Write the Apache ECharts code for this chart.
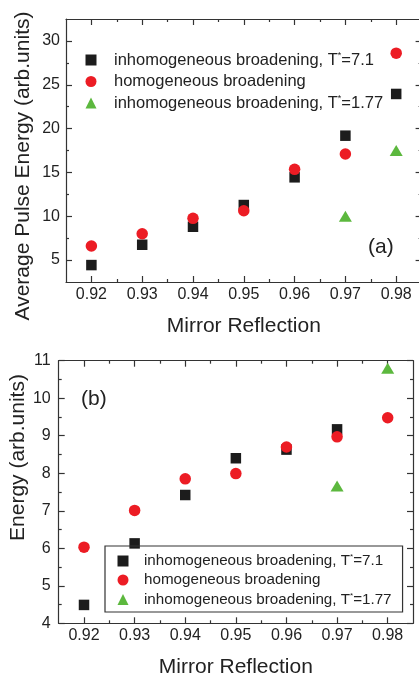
<!DOCTYPE html>
<html>
<head>
<meta charset="utf-8">
<script src="https://cdn.jsdelivr.net/npm/echarts@6/dist/echarts.min.js"></script>
<style>
html, body { margin: 0; padding: 0; background: #fff; }
#chart { width: 419px; height: 675px; }
</style>
</head>
<body>
<div id="chart"></div>
<script>
var chart = echarts.init(document.getElementById('chart'));

// mirror reflection values (x)
var reflection = [0.92, 0.93, 0.94, 0.95, 0.96, 0.97, 0.98];
var xTicks = [0.92, 0.93, 0.94, 0.95, 0.96, 0.97, 0.98];
var xMinorTicks = [0.925, 0.935, 0.945, 0.955, 0.965, 0.975];

// panel (a): average pulse energy
var pulseInhom71 = [4.43, 6.75, 8.8, 11.28, 14.44, 19.19, 23.95];
var pulseHom = [6.6, 8.0, 9.76, 10.63, 15.35, 17.1, 28.6];
var pulseInhom177 = [null, null, null, null, null, 10.0, 17.5];
var yTicksA = [5, 10, 15, 20, 25, 30];
var yMinorTicksA = [7.5, 12.5, 17.5, 22.5, 27.5];

// panel (b): energy
var energyInhom71 = [4.49, 6.13, 7.42, 8.4, 8.63, 9.17, null];
var energyHom = [6.03, 7.01, 7.85, 7.99, 8.7, 8.97, 9.48];
var energyInhom177 = [null, null, null, null, null, 7.66, 10.8];
var yTicksB = [4, 5, 6, 7, 8, 9, 10, 11];
var yMinorTicksB = [4.5, 5.5, 6.5, 7.5, 8.5, 9.5, 10.5];

var names = [
    'inhomogeneous broadening, T*=7.1',
    'homogeneous broadening',
    'inhomogeneous broadening, T*=1.77'
];

var FONT = 'Liberation Sans, Arial, sans-serif';
var AXIS_COLOR = '#333';
var TEXT_COLOR = '#222';

function pairs(xs, ys) {
    var out = [];
    for (var i = 0; i < xs.length; i++) {
        if (ys[i] !== null) out.push([xs[i], ys[i]]);
    }
    return out;
}

// 4 axes per side pair: main (labelled), its minor ticks, opposite side, its minor ticks
function makeAxes(gridIndex, min, max, majors, minors, pos, oppPos, label, name) {
    function axis(p, ticks, len, showLine, withLabel) {
        var a = {
            type: 'value', gridIndex: gridIndex, position: p, min: min, max: max,
            splitLine: { show: false },
            axisLine: { show: showLine, onZero: false, lineStyle: { color: AXIS_COLOR, width: 1.2 } },
            axisTick: { show: true, inside: true, length: len, customValues: ticks,
                lineStyle: { color: AXIS_COLOR, width: 1.2 } },
            axisLabel: { show: false }
        };
        if (withLabel) {
            a.axisLabel = label;
            a.axisLabel.customValues = ticks;
            a.name = name.text;
            a.nameLocation = 'middle';
            a.nameGap = name.gap;
            a.nameMoveOverlap = false;
            a.nameTextStyle = { fontFamily: FONT, fontSize: 21, color: TEXT_COLOR,
                padding: name.padding || 0 };
        }
        return a;
    }
    return [
        axis(pos, majors, 6, true, true),
        axis(pos, minors, 3, false, false),
        axis(oppPos, majors, 6, true, false),
        axis(oppPos, minors, 3, false, false)
    ];
}

var xLabel = function (margin) {
    return { show: true, margin: margin, fontFamily: FONT, fontSize: 16, color: TEXT_COLOR,
        formatter: function (v) { return v.toFixed(2); } };
};
var yLabel = function (margin) {
    return { show: true, margin: margin, fontFamily: FONT, fontSize: 16, color: TEXT_COLOR };
};

var xAxes = []
    .concat(makeAxes(0, 0.915, 0.985, xTicks, xMinorTicks, 'bottom', 'top', xLabel(5),
        { text: 'Mirror Reflection', gap: 34 }))
    .concat(makeAxes(1, 0.915, 0.985, xTicks, xMinorTicks, 'bottom', 'top', xLabel(4),
        { text: 'Mirror Reflection', gap: 33 }));
var yAxes = []
    .concat(makeAxes(0, 2.5, 32.5, yTicksA, yMinorTicksA, 'left', 'right', yLabel(6),
        { text: 'Average Pulse Energy (arb.units)', gap: 32, padding: [0, 31, 0, 0] }))
    .concat(makeAxes(1, 4, 11, yTicksB, yMinorTicksB, 'left', 'right', yLabel(8),
        { text: 'Energy (arb.units)', gap: 30, padding: [0, 0, 0, 69] }));

var markerColors = ['#1c1c1c', '#ec1c24', '#5cb83e'];
var markerShapes = ['rect', 'circle', 'triangle'];
var markerSizes = [10.5, 11.5, [13, 11]];

function panelSeries(gridIndex, sets) {
    return sets.map(function (ys, i) {
        return {
            type: 'scatter',
            name: names[i],
            xAxisIndex: gridIndex * 4,
            yAxisIndex: gridIndex * 4,
            symbol: markerShapes[i],
            symbolSize: markerSizes[i],
            itemStyle: { color: markerColors[i], opacity: 1 },
            z: 3 + i,
            data: pairs(reflection, ys)
        };
    });
}

var series = []
    .concat(panelSeries(0, [pulseInhom71, pulseHom, pulseInhom177]))
    .concat(panelSeries(1, [energyInhom71, energyHom, energyInhom177]));

var legendFormatter = function (name) {
    return name.replace('T*', 'T{sup|*}');
};

var option = {
    animation: false,
    backgroundColor: '#fff',
    grid: [
        { left: 66, top: 19, width: 355.6, height: 263, containLabel: false, outerBoundsMode: 'none' },
        { left: 58.7, top: 360.7, width: 354.3, height: 262.6, containLabel: false, outerBoundsMode: 'none' }
    ],
    xAxis: xAxes,
    yAxis: yAxes,
    legend: [
        {
            orient: 'vertical', left: 85.5, top: 51.5, padding: 0,
            itemWidth: 11, itemHeight: 11, itemGap: 4.5,
            data: names, formatter: legendFormatter, selectedMode: false,
            textStyle: { fontFamily: FONT, fontSize: 16.5, color: TEXT_COLOR, padding: [0, 0, 0, 12.5],
                rich: { sup: { fontSize: 9, verticalAlign: 'top', padding: [0, 0, 8, 0] } } }
        },
        {
            orient: 'vertical', left: 105, top: 546, padding: [7, 11, 5, 12.5],
            borderColor: AXIS_COLOR, borderWidth: 1.2,
            itemWidth: 11, itemHeight: 11, itemGap: 4,
            data: names, formatter: legendFormatter, selectedMode: false,
            textStyle: { fontFamily: FONT, fontSize: 15.2, color: TEXT_COLOR, padding: [0, 0, 0, 10.5],
                rich: { sup: { fontSize: 8, verticalAlign: 'top', padding: [0, 0, 8, 0] } } }
        }
    ],
    graphic: [
        { type: 'text', left: 368, top: 237,
          style: { text: '(a)', font: '21px ' + FONT, fill: TEXT_COLOR } },
        { type: 'text', left: 81, top: 389,
          style: { text: '(b)', font: '21px ' + FONT, fill: TEXT_COLOR } }
    ],
    series: series
};

chart.setOption(option);
</script>
</body>
</html>
